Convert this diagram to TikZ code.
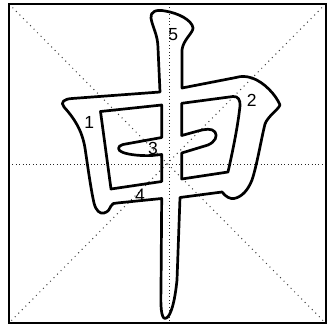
\documentclass[tikz,border=0pt]{standalone}
\usepackage{fontspec}
\setmainfont{Liberation Sans}
\begin{document}
\begin{tikzpicture}[x=1pt,y=-1pt,
  guide/.style={black!85,line width=1pt,dash pattern=on 1pt off 2.4pt},
  diag/.style={black!75,line width=1pt,dash pattern=on 1pt off 4pt},
  outline/.style={line width=2.7pt,line join=round,line cap=round},
  num/.style={font=\fontsize{17.5}{17.5}\selectfont,inner sep=0pt}]
\useasboundingbox (0,0) rectangle (327,327);
\fill[white] (0,0) rectangle (327,327);
% guide lines
\coordinate (tl) at (9,4);
\coordinate (tr) at (325.5,4);
\coordinate (bl) at (9,323);
\coordinate (br) at (325.5,323);
\coordinate (ml) at (9,164);
\coordinate (mr) at (325.5,164);
\coordinate (mt) at (169.5,4);
\coordinate (mb) at (169.5,323);
\draw[diag] (tl) -- (br);
\draw[diag] (tr) -- (bl);
\draw[guide] (ml) -- (mr);
\draw[guide] (mt) -- (mb);
\draw[line width=2pt] (tl) rectangle (br);
% outer outline of the character
\draw[outline]
  (160,92) -- (72,98.5)
  .. controls (64,99) and (60,102) .. (64,107)
  .. controls (74,118) and (82,130) .. (85,148)
  .. controls (88,168) and (91,190) .. (94,203)
  .. controls (96,211) and (100,214) .. (104,213)
  .. controls (108,212) and (110,209) .. (111,206)
  .. controls (112,203) and (114,203.5) .. (117,203)
  -- (161.7,198.5) -- (161,290)
  .. controls (160.5,305) and (161,318) .. (165,318.5)
  .. controls (171,318) and (175,300) .. (177,280)
  -- (180,197.5) -- (222,192)
  .. controls (226,197) and (230,199) .. (234,198.5)
  .. controls (242,197) and (248,190) .. (252,180)
  .. controls (257,165) and (261,140) .. (265,124)
  .. controls (268,116) and (278,110) .. (280,105)
  .. controls (276,95) and (264,82) .. (252,78)
  .. controls (246,76) and (241,76) .. (236,77.5)
  -- (182,88) -- (182,50)
  .. controls (183,40) and (193,33) .. (193,28)
  .. controls (192,20) and (178,13) .. (165,11)
  .. controls (156,9) and (150,12) .. (151,18)
  .. controls (152,26) and (158,35) .. (158,48)
  -- cycle;
% left inner hole with stroke 3
\draw[outline]
  (100.5,111.5) -- (161.7,105) -- (161.7,137.5) -- (123,144.5)
  .. controls (117,146) and (117,150.5) .. (123,152.5)
  .. controls (130,155) and (142,156) .. (152,155.5)
  -- (161.7,154.5) -- (161.7,181.5) -- (111,189) -- cycle;
% right inner hole with stroke 3
\draw[outline]
  (181.7,103.3) -- (233,96.5)
  .. controls (238,96) and (240.5,100) .. (240,106)
  .. controls (238,125) and (233,150) .. (228,172)
  -- (181.7,179) -- (181.7,153) -- (208,145)
  .. controls (215,142) and (218,136) .. (215,132)
  .. controls (212,128) and (205,129) .. (198,131)
  -- (181.7,135.5) -- cycle;
% stroke numbers
\node[num] (n1) at (89.3,122) {1};
\node[num] (n2) at (251.7,100) {2};
\node[num] (n3) at (153,148.5) {3};
\node[num] (n4) at (140,195) {4};
\node[num] (n5) at (173.3,35) {5};
\end{tikzpicture}
\end{document}
